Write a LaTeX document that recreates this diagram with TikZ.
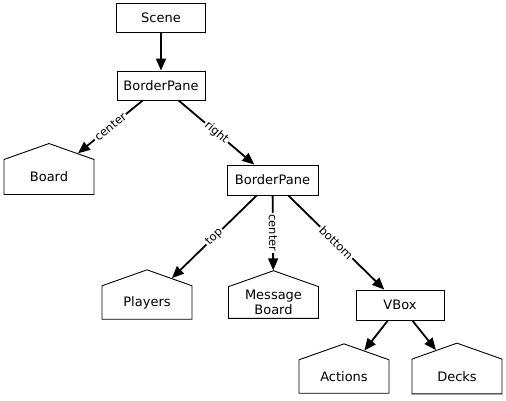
\documentclass[tikz,border=0pt]{standalone}
\usepackage{fontspec}
\setmainfont{DejaVu Sans}
\usetikzlibrary{arrows.meta,positioning,shapes.symbols}
\tikzset{
  pane/.style={rectangle,draw,line width=0.9pt,minimum width=88pt,minimum height=29pt,
    font=\fontsize{13}{15}\selectfont},
  leaf/.style={signal,signal to=north,signal from=nowhere,signal pointer angle=141,
    draw,line width=0.9pt,minimum width=90pt,minimum height=43pt,align=center,
    font=\fontsize{13}{15}\selectfont},
  slot/.style={sloped,fill=white,inner sep=1.5pt,font=\fontsize{11.5}{13}\selectfont},
  children/.style={
    every edge/.style={draw,->,line width=1.8pt}
  },
  scenegraph/.style={
    x=1pt,y=-1pt,>={Triangle[length=12pt,width=10pt]}
  }
}

\begin{document}
\begin{tikzpicture}[scenegraph]
  \useasboundingbox (0,0) rectangle (506,400);
  \node[pane,minimum width=89pt] (scene) at (161,17.5) {Scene};
  \node[pane] (root) at (161,85.5) {BorderPane};
  \node[leaf] (board) at (49,177) {Board};
  \node[pane,minimum width=91pt,minimum height=30pt] (right) at (272.5,180) {BorderPane};
  \node[leaf] (players) at (147,302.5) {Players};
  \node[leaf] (message) at (273.5,302.5) {Message\\Board};
  \node[pane,minimum height=30pt] (vbox) at (400,305) {VBox};
  \node[leaf] (actions) at (344,376.5) {Actions};
  \node[leaf] (decks) at (457,376.5) {Decks};
  \path[children]
  (scene) edge (root)
  (root) edge node[slot] {center} (board)
  (root) edge node[slot] {right} (right)
  (right) edge node[slot] {top} (players)
  (right) edge node[slot] {center} (message)
  (right) edge node[slot] {bottom} (vbox)
  (vbox) edge (actions)
  (vbox) edge (decks)
  ;
\end{tikzpicture}
\end{document}
